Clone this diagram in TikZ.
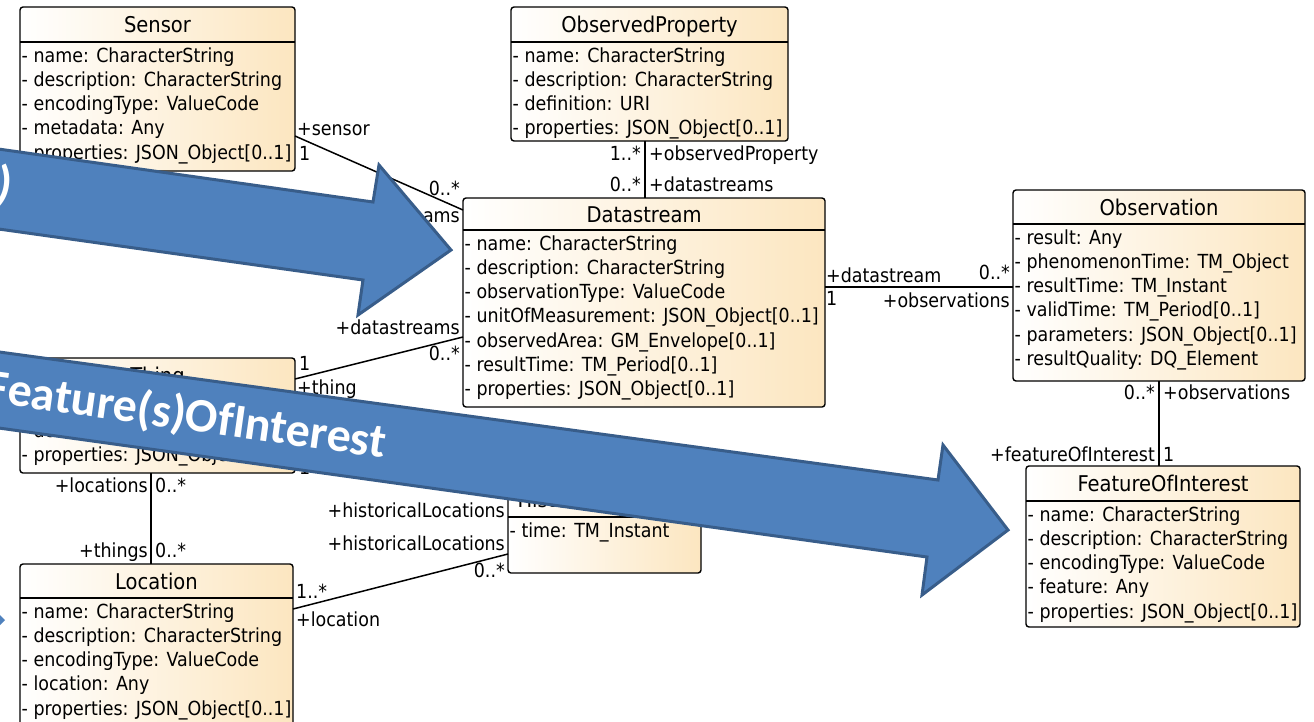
\documentclass[tikz,border=0pt]{standalone}
\usepackage{fontspec}
\setmainfont{DejaVu Sans Condensed}
\newfontfamily\carlito{Carlito}
\usetikzlibrary{calc}
\definecolor{boxor}{RGB}{252,230,192}
\definecolor{arrfill}{RGB}{79,129,189}
\definecolor{arrdraw}{RGB}{56,93,138}
\tikzset{
 umlbox/.style={draw, line width=1.4pt, rounded corners=3pt, left color=white, right color=boxor, anchor=north west, inner sep=0pt, outer sep=0pt},
 ttl/.style={font=\fontsize{21.7}{24}\selectfont, anchor=base, inner sep=0pt},
 attr/.style={font=\fontsize{19.4}{22}\selectfont, anchor=base west, inner sep=0pt},
 lbl/.style={font=\fontsize{19.4}{22}\selectfont, inner sep=0pt},
 lw/.style={lbl, anchor=base west},
 le/.style={lbl, anchor=base east},
 conn/.style={line width=1.5pt},
 sepline/.style={line width=1.4pt},
 bigarrow/.style={fill=arrfill, draw=arrdraw, line width=3pt, line join=miter},
 arrtext/.style={font=\carlito\bfseries\fontsize{48}{54}\selectfont, text=white, inner sep=0pt}
}
\newcommand{\umlclass}[8]{%
 \node[umlbox, minimum width=#4pt, minimum height=#5pt] (#1) at (#2,#3) {};
 \draw[sepline] ($(#1.north west)+(0,#6)$) -- ($(#1.north east)+(0,#6)$);
 \node[ttl] (#1-t) at ($(#1.north)+(0,#6/2+8)$) {#7};
 \foreach \a [count=\i] in {#8} \node[attr] (#1-a\i) at ($(#1.north west)+(1.5,#6+20+24.3*\i-24.3)$) {\a};
}
\begin{document}
\begin{tikzpicture}[x=1pt,y=-1pt]
\useasboundingbox (0,0) rectangle (1314,721);
\clip (0,0) rectangle (1314,721);
\fill[white] (0,0) rectangle (1314,721);

\umlclass{sensor}{20}{7}{275}{164}{35}{Sensor}{- name: CharacterString, - description: CharacterString, - encodingType: ValueCode, - metadata: Any, - properties: JSON\_Object[0..1]}
\umlclass{obsprop}{511}{7}{277}{134}{35}{ObservedProperty}{- name: CharacterString, - description: CharacterString, - definition: URI, - properties: JSON\_Object[0..1]}
\umlclass{ds}{463}{198}{362}{209}{32}{Datastream}{- name: CharacterString, - description: CharacterString, - observationType: ValueCode, - unitOfMeasurement: JSON\_Object[0..1], - observedArea: GM\_Envelope[0..1], - resultTime: TM\_Period[0..1], - properties: JSON\_Object[0..1]}
\umlclass{obs}{1013}{190}{292}{191}{34}{Observation}{- result: Any, - phenomenonTime: TM\_Object, - resultTime: TM\_Instant, - validTime: TM\_Period[0..1], - parameters: JSON\_Object[0..1], - resultQuality: DQ\_Element}
\umlclass{foi}{1026}{466}{274}{161}{35}{FeatureOfInterest}{- name: CharacterString, - description: CharacterString, - encodingType: ValueCode, - feature: Any, - properties: JSON\_Object[0..1]}
\umlclass{thing}{20}{358}{275}{115}{35}{Thing}{- name: CharacterString, - description: CharacterString, - properties: JSON\_Object[0..1]}
\umlclass{loc}{20}{564}{273}{175}{34}{Location}{- name: CharacterString, - description: CharacterString, - encodingType: ValueCode, - location: Any, - properties: JSON\_Object[0..1]}
\umlclass{hl}{508}{482}{193}{91}{35}{HistoricalLocation}{- time: TM\_Instant}

% connectors
\draw[conn] (sensor.east |- 0,136) -- (ds.west |- 0,210);
\draw[conn] (thing.east |- 0,379) -- (ds.west |- 0,337);
\draw[conn] (obsprop.south -| 645,0) -- (ds.north -| 645,0);
\draw[conn] (ds.east |- 0,287) -- (obs.west |- 0,287);
\draw[conn] (obs.south -| 1159,0) -- (foi.north -| 1159,0);
\draw[conn] (thing.south -| 151,0) -- (loc.north -| 151,0);
\draw[conn] (thing.east |- 0,456) -- (hl.west |- 0,488);
\draw[conn] (loc.east |- 0,609) -- (hl.west |- 0,554);

% labels
\node[lw] (l1) at (297,135) {+sensor};
\node[lw] (l2) at (299,160) {1};
\node[le] (l3) at (460,195) {0..*};
\node[le] (l4) at (460,222) {+datastreams};
\node[le] (l5) at (460,334) {+datastreams};
\node[le] (l6) at (460,360) {0..*};
\node[lw] (l7) at (299,370) {1};
\node[lw] (l8) at (297,394) {+thing};
\node[le] (l9) at (641,160) {1..*};
\node[lw] (l10) at (649,160) {+observedProperty};
\node[le] (l11) at (641,191) {0..*};
\node[lw] (l12) at (649,191) {+datastreams};
\node[lw] (l13) at (826,282) {+datastream};
\node[lw] (l14) at (826,305) {1};
\node[le] (l15) at (1010,279) {0..*};
\node[le] (l16) at (1010,307) {+observations};
\node[le] (l17) at (1155,399) {0..*};
\node[lw] (l18) at (1163,399) {+observations};
\node[le] (l19) at (1155,461) {+featureOfInterest};
\node[lw] (l20) at (1163,461) {1};
\node[le] (l21) at (148,492) {+locations};
\node[lw] (l22) at (155,492) {0..*};
\node[le] (l23) at (148,557) {+things};
\node[lw] (l24) at (155,557) {0..*};
\node[lw] (l25) at (296,598) {1..*};
\node[lw] (l26) at (296,626) {+location};
\node[le] (l27) at (505,550) {+historicalLocations};
\node[le] (l28) at (505,577) {0..*};
\node[le] (l29) at (505,517) {+historicalLocations};
\node[lw] (l30) at (299,474) {1};

% big arrows
\draw[bigarrow] (-30,145) -- (373,202) -- (379,165) -- (451,250) -- (358,315) -- (363,280) -- (-30,225) -- cycle;
\node[arrtext, anchor=east, rotate=-8] (ptxt) at (12,187) {)};
\draw[bigarrow] (-30,348) -- (938,480) -- (943,445) -- (1008,530) -- (922,595) -- (927,557) -- (-30,424) -- cycle;
\node[arrtext, anchor=base east, rotate=-8] (ftxt) at (384,458) {Feature(s)OfInterest};
\fill[arrfill] (0,615) -- (5,620) -- (0,625) -- cycle;
\end{tikzpicture}
\end{document}
